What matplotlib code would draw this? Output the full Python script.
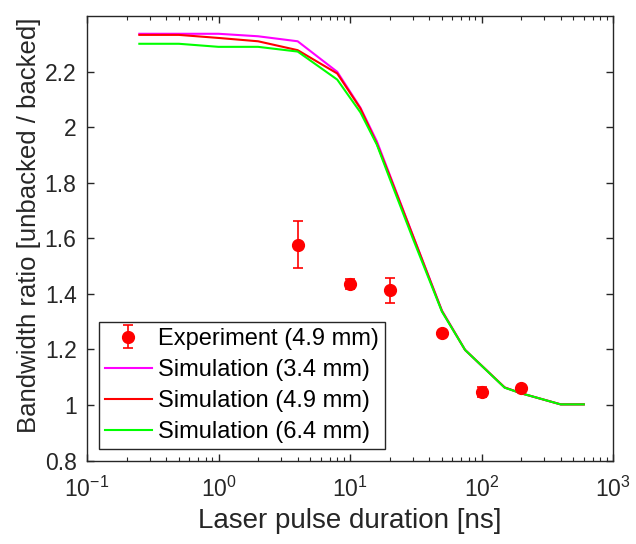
import matplotlib
matplotlib.use("Agg")
import matplotlib.pyplot as plt
from matplotlib.ticker import LogLocator, NullFormatter, FixedLocator

plt.rcParams['font.family'] = ['Liberation Sans', 'DejaVu Sans']
plt.rcParams['mathtext.fontset'] = 'custom'
plt.rcParams['mathtext.rm'] = 'Liberation Sans'

# Experiment data
exp_x = [4, 10, 20, 50, 100, 200]
exp_y = [1.577, 1.436, 1.412, 1.258, 1.046, 1.060]
exp_err = [0.084, 0.018, 0.044, 0.008, 0.019, 0.008]

# Simulation data
sim_x = [0.25, 0.5, 1, 2, 4, 8, 12, 16, 20, 30, 50, 75, 150, 200, 400, 600]
sim_34 = [2.336, 2.336, 2.336, 2.327, 2.309, 2.199, 2.070, 1.949, 1.830, 1.612, 1.340, 1.198, 1.063, 1.042, 1.002, 1.002]
sim_49 = [2.332, 2.332, 2.321, 2.309, 2.277, 2.193, 2.067, 1.940, 1.825, 1.610, 1.338, 1.198, 1.063, 1.042, 1.002, 1.002]
sim_64 = [2.300, 2.300, 2.289, 2.289, 2.272, 2.171, 2.053, 1.937, 1.816, 1.600, 1.336, 1.198, 1.062, 1.042, 1.002, 1.002]

labels = ['Experiment (4.9 mm)', 'Simulation (3.4 mm)', 'Simulation (4.9 mm)', 'Simulation (6.4 mm)']
yticks = [0.8, 1, 1.2, 1.4, 1.6, 1.8, 2, 2.2]
ytick_labels = ['0.8', '1', '1.2', '1.4', '1.6', '1.8', '2', '2.2']
xticks = [0.1, 1, 10, 100, 1000]
xtick_labels = ['$\\mathdefault{10^{-1}}$', '$\\mathdefault{10^{0}}$', '$\\mathdefault{10^{1}}$',
                '$\\mathdefault{10^{2}}$', '$\\mathdefault{10^{3}}$']

dark = '#262626'
fig = plt.figure(figsize=(6.36, 5.44), dpi=100)
ax = fig.add_axes([87/636, 1 - 460.5/544, (613 - 87)/636, (460.5 - 16)/544])

h0 = ax.errorbar(exp_x, exp_y, yerr=exp_err, fmt='o', color='#FF0000', markersize=8.5,
                 capsize=3.8, elinewidth=1.2, capthick=1.2, label=labels[0], zorder=5)
h1, = ax.plot(sim_x, sim_34, color='#FF00FF', lw=1.5, label=labels[1])
h2, = ax.plot(sim_x, sim_49, color='#FF0000', lw=1.5, label=labels[2])
h3, = ax.plot(sim_x, sim_64, color='#00FF00', lw=1.5, label=labels[3])

ax.set_xscale('log')
ax.set_xlim(0.1, 1000)
ax.set_ylim(0.8, 2.4)
ax.set_yticks(yticks)
ax.set_yticklabels(ytick_labels)
ax.xaxis.set_major_locator(FixedLocator(xticks))
ax.set_xticklabels(xtick_labels)
ax.xaxis.set_minor_locator(LogLocator(base=10, subs=range(2, 10)))
ax.xaxis.set_minor_formatter(NullFormatter())

ax.tick_params(which='both', direction='in', top=True, right=True, colors=dark, labelsize=16.5)
ax.tick_params(which='major', length=5, width=1)
ax.tick_params(which='minor', length=3, width=0.8)
ax.tick_params(axis='x', which='major', pad=12)
ax.tick_params(axis='y', which='major', pad=7.5)
for s in ax.spines.values():
    s.set_color(dark)
    s.set_linewidth(1.0)

ax.set_xlabel('Laser pulse duration [ns]', fontsize=20, color=dark, labelpad=4)
ax.set_ylabel('Bandwidth ratio [unbacked / backed]', fontsize=18.5, color=dark)
ax.yaxis.set_label_coords(-0.088, 0.53)

leg = ax.legend(handles=[h0, h1, h2, h3], loc='lower left', fontsize=17,
                frameon=True, fancybox=False, edgecolor=dark, framealpha=1,
                borderaxespad=0.5, handlelength=2.0, handletextpad=0.25, labelspacing=0.38,
                borderpad=0.25)
leg.get_frame().set_linewidth(1.0)
for t in leg.get_texts():
    t.set_color('black')

fig.savefig('out.png', dpi=100)
